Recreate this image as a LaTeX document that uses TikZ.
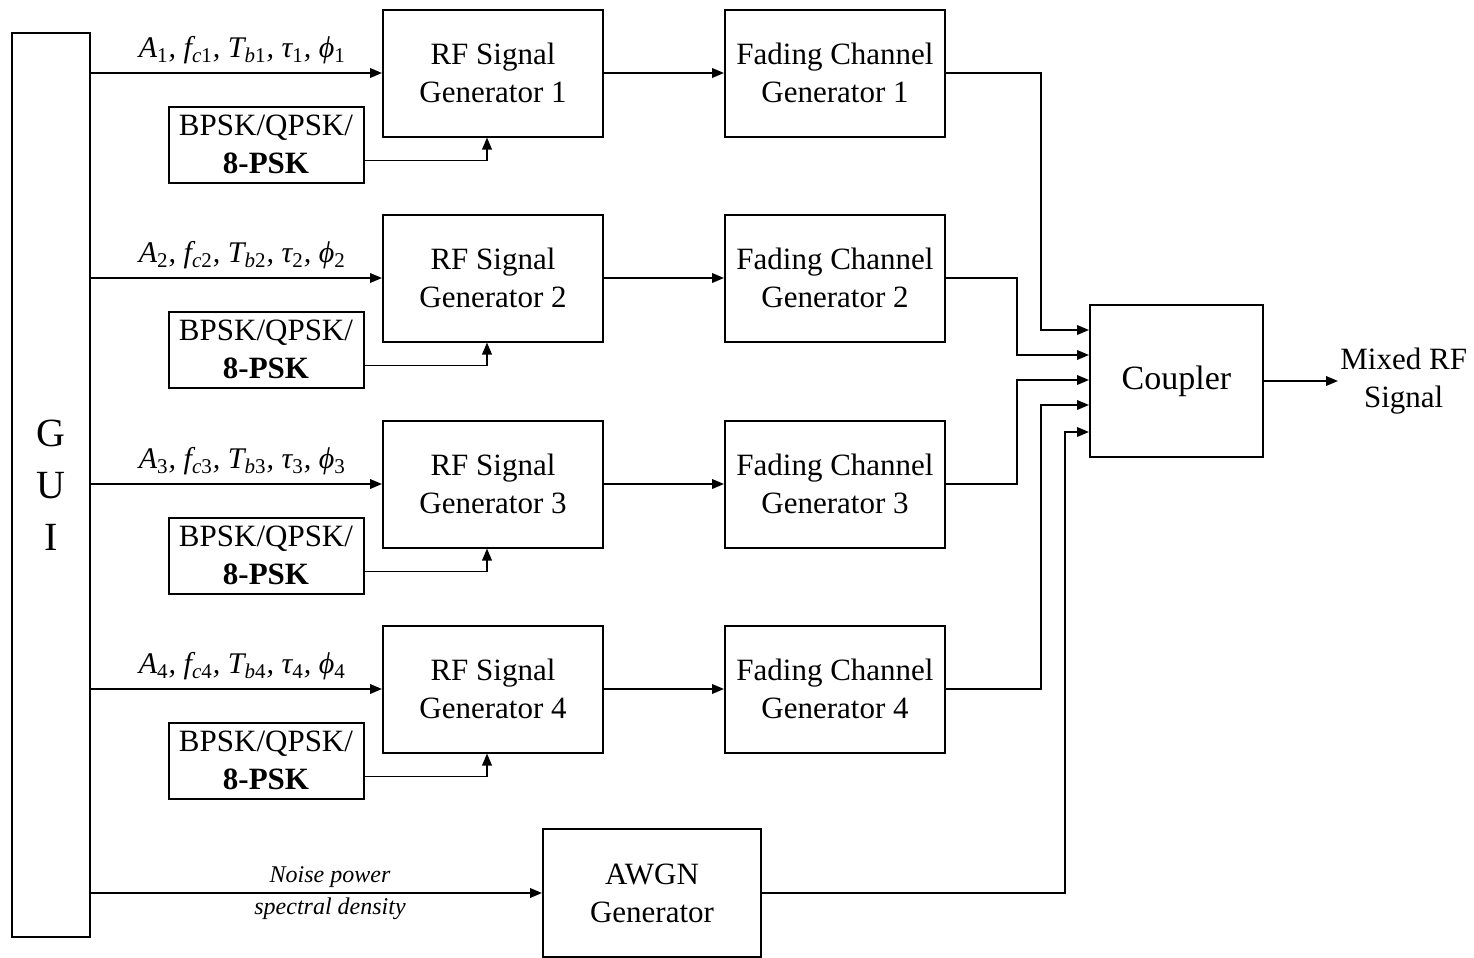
\documentclass[tikz,border=0pt]{standalone}
\usepackage{fontspec}
\setmainfont{Liberation Serif}
\usetikzlibrary{arrows.meta}

\tikzset{
  block/.style={draw, line width=1pt, minimum width=110pt, minimum height=63.5pt,
    inner sep=0pt, align=center, font=\fontsize{15.5}{19}\selectfont},
  modbox/.style={draw, line width=1pt, minimum width=97.5pt, minimum height=38pt,
    inner sep=0pt, align=center, font=\fontsize{15.5}{19}\selectfont},
  link/.style={line width=0.9pt, -{Triangle[length=6pt,width=4.8pt]}},
  plabel/.style={font=\fontsize{15}{18}\selectfont\itshape, inner sep=1pt},
  nlabel/.style={font=\fontsize{12}{14}\selectfont\itshape, inner sep=2pt}
}

\begin{document}
\begin{tikzpicture}[x=0.5pt,y=-0.5pt]

\useasboundingbox (0,0) rectangle (1474,958);

\node[draw, line width=1pt, minimum width=39pt, minimum height=452pt, inner sep=0pt,
  align=center, font=\fontsize{20}{26}\selectfont] (gui) at (51,485) {G\\U\\I};

\node[block, minimum width=86.5pt, minimum height=76pt,
  font=\fontsize{17}{20}\selectfont] (cp) at (1176.5,381) {Coupler};
\node[align=center, anchor=west, inner sep=1pt,
  font=\fontsize{15.5}{19}\selectfont] (mix) at (1338,381) {Mixed RF\\Signal};

\node[block, minimum width=109pt, minimum height=64pt] (awgn) at (652,893) {AWGN\\Generator};

% one row per signal chain
\foreach \i/\y in {1/73,2/278,3/484,4/689}
{
  \node[block] (rf\i) at (493,\y) {RF Signal\\Generator \i};
  \node[block] (fc\i) at (835,\y) {Fading Channel\\Generator \i};
  \node[modbox] (mod\i) at (266,\y+71.5) {BPSK/QPSK/\\\textbf{8-PSK}};

  \draw[link] (gui.east |- rf\i.west) -- (rf\i.west)
    node[plabel, pos=0.52, above=3pt] {A\textsubscript{\upshape\i}, f\textsubscript{c\upshape\i}, T\textsubscript{b\upshape\i}, τ\textsubscript{\upshape\i}, ϕ\textsubscript{\upshape\i}};
  \draw[link] ([yshift=-8pt]mod\i.east) -| ([xshift=-3pt]rf\i.south);
  \draw[link] (rf\i.east) -- (fc\i.west);
}

% coupler inputs
\foreach \j/\y in {1/330,2/355,3/380,4/405,5/432}
{
  \coordinate (in\j) at (cp.west |- 0,\y);
}

\draw[link] (fc1.east) -| ([xshift=-24pt]in1) -- (in1);
\draw[link] (fc2.east) -| ([xshift=-36pt]in2) -- (in2);
\draw[link] (fc3.east) -| ([xshift=-36pt]in3) -- (in3);
\draw[link] (fc4.east) -| ([xshift=-24pt]in4) -- (in4);
\draw[link] (awgn.east) -| ([xshift=-12pt]in5) -- (in5);

\draw[link] (gui.east |- awgn.west) -- (awgn.west)
  node[nlabel, pos=0.53, above] {Noise power}
  node[nlabel, pos=0.53, below] {spectral density};

\draw[link] (cp.east) -- (mix.west);

\end{tikzpicture}
\end{document}
